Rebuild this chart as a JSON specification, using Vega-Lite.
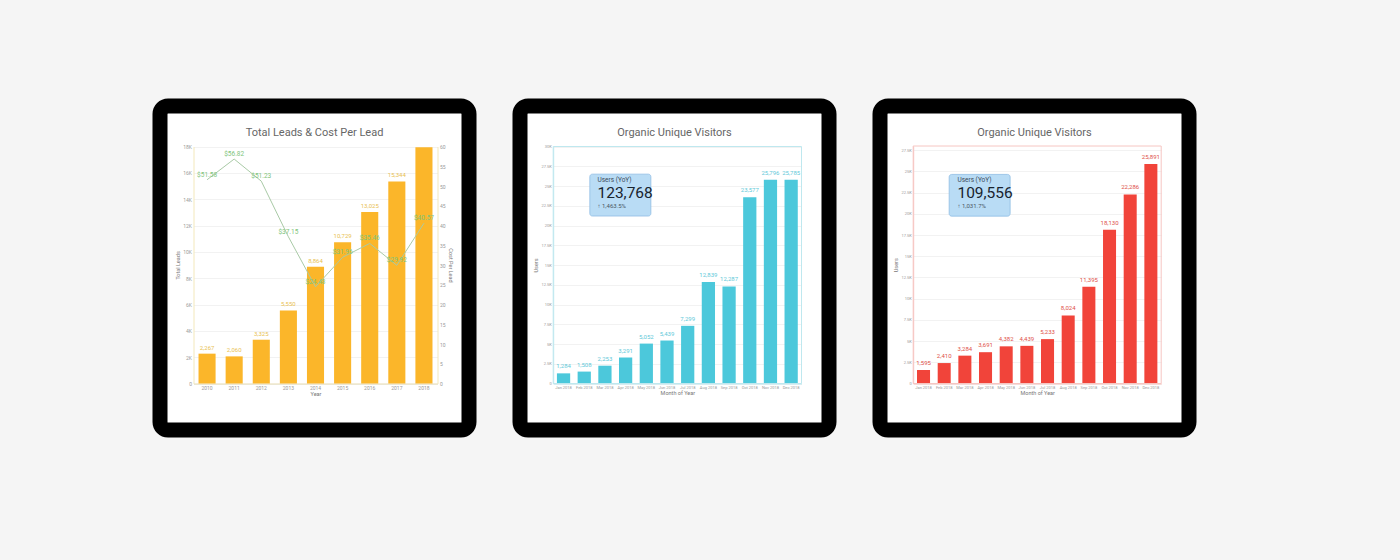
{
  "$schema": "https://vega.github.io/schema/vega-lite/v6.json",
  "background": "#f5f5f5",
  "padding": {"left": 152, "top": 98, "right": 204, "bottom": 123},
  "autosize": {"type": "pad"},
  "spacing": 35,
  "config": {
    "font": "Roboto",
    "axis": {"labelFontSize": 5, "labelColor": "#9a9a9a", "titleFontSize": 5.5, "titleFontWeight": "normal", "titleColor": "#777777", "ticks": false, "labelPadding": 2, "gridColor": "#f2f2f2", "domainColor": "#dddddd", "titlePadding": 2},
    "title": {"fontSize": 11, "fontWeight": "normal", "color": "#666666", "anchor": "middle", "offset": -32}
  },
  "datasets": {
    "leads": [
      {"year": "2010", "leads": 2267, "cpl": 51.58},
      {"year": "2011", "leads": 2060, "cpl": 56.82},
      {"year": "2012", "leads": 3325, "cpl": 51.23},
      {"year": "2013", "leads": 5550, "cpl": 37.15},
      {"year": "2014", "leads": 8864, "cpl": 24.48},
      {"year": "2015", "leads": 10729, "cpl": 31.96},
      {"year": "2016", "leads": 13025, "cpl": 35.46},
      {"year": "2017", "leads": 15344, "cpl": 29.92},
      {"year": "2018", "leads": 17940, "cpl": 40.57}
    ],
    "p2": [
      {"month": "Jan 2018", "users": 1284},
      {"month": "Feb 2018", "users": 1508},
      {"month": "Mar 2018", "users": 2253},
      {"month": "Apr 2018", "users": 3291},
      {"month": "May 2018", "users": 5052},
      {"month": "Jun 2018", "users": 5439},
      {"month": "Jul 2018", "users": 7299},
      {"month": "Aug 2018", "users": 12839},
      {"month": "Sep 2018", "users": 12287},
      {"month": "Oct 2018", "users": 23577},
      {"month": "Nov 2018", "users": 25796},
      {"month": "Dec 2018", "users": 25785}
    ],
    "p3": [
      {"month": "Jan 2018", "users": 1595},
      {"month": "Feb 2018", "users": 2410},
      {"month": "Mar 2018", "users": 3284},
      {"month": "Apr 2018", "users": 3691},
      {"month": "May 2018", "users": 4382},
      {"month": "Jun 2018", "users": 4439},
      {"month": "Jul 2018", "users": 5233},
      {"month": "Aug 2018", "users": 8024},
      {"month": "Sep 2018", "users": 11395},
      {"month": "Oct 2018", "users": 18130},
      {"month": "Nov 2018", "users": 22286},
      {"month": "Dec 2018", "users": 25891}
    ],
    "callout2": [{"label": "Users (YoY)", "total": 123768, "change": "↑ 1,463.5%"}],
    "callout3": [{"label": "Users (YoY)", "total": 109556, "change": "↑ 1,031.7%"}]
  },
  "hconcat": [
    {
      "width": 309, "height": 324,
      "view": {"fill": "white", "stroke": "black", "strokeWidth": 15, "cornerRadius": 8},
      "title": {"text": "Total Leads & Cost Per Lead"},
      "data": {"name": "leads"},
      "resolve": {"scale": {"y": "independent"}},
      "encoding": {
        "x": {"field": "year", "type": "ordinal", "sort": null,
          "scale": {"domain": ["2010","2011","2012","2013","2014","2015","2016","2017","2018"], "range": [33.5, 277.5], "paddingInner": 0.37, "paddingOuter": 0.185},
          "axis": {"title": "Year", "labelAngle": 0, "offset": -46.5, "domainColor": "#e6dbb0", "grid": false, "titlePadding": 1}}
      },
      "layer": [
        {
          "encoding": {
            "y": {"field": "leads", "type": "quantitative",
              "scale": {"domain": [0, 18000], "range": [277.5, 40.5], "nice": false, "zero": true},
              "axis": {"title": "Total Leads", "offset": -33.5, "values": [0,2000,4000,6000,8000,10000,12000,14000,16000,18000], "labelExpr": "datum.value == 0 ? '0' : (datum.value/1000) + 'K'", "grid": true, "domainColor": "#f3e8bb"}}
          },
          "layer": [
            {"mark": {"type": "bar", "color": "#fbb62a"}},
            {"transform": [{"filter": "datum.year != '2018'"}],
             "mark": {"type": "text", "dy": -6, "fontSize": 6, "color": "#e9bf52"},
             "encoding": {"text": {"field": "leads", "format": ","}}}
          ]
        },
        {
          "encoding": {
            "y": {"field": "cpl", "type": "quantitative",
              "scale": {"domain": [0, 60], "range": [277.5, 40.5], "nice": false, "zero": true},
              "axis": {"title": "Cost Per Lead", "orient": "right", "offset": -31.5, "values": [0,5,10,15,20,25,30,35,40,45,50,55,60], "grid": false, "domainColor": "#f3e8bb"}}
          },
          "layer": [
            {"mark": {"type": "line", "color": "#a9caa6", "strokeWidth": 1}},
            {"mark": {"type": "text", "dy": -5, "fontSize": 6.5, "color": "#80c47b"},
             "encoding": {"text": {"field": "cpl", "format": "$,.2f"}}}
          ]
        }
      ]
    },
    {
      "width": 309, "height": 324,
      "view": {"fill": "white", "stroke": "black", "strokeWidth": 15, "cornerRadius": 8},
      "title": {"text": "Organic Unique Visitors"},
      "resolve": {"scale": {"x": "independent"}, "axis": {"y": "independent"}},
      "layer": [
        {
          "data": {"name": "p2"},
          "encoding": {
            "x": {"field": "month", "type": "ordinal", "sort": null,
              "scale": {"domain": ["Jan 2018","Feb 2018","Mar 2018","Apr 2018","May 2018","Jun 2018","Jul 2018","Aug 2018","Sep 2018","Oct 2018","Nov 2018","Dec 2018"], "range": [33.2, 281.5], "paddingInner": 0.36, "paddingOuter": 0.18},
              "axis": {"title": "Month of Year", "labelAngle": 0, "labelFontSize": 4, "offset": -46.5, "domainColor": "#bfe8ef", "grid": false, "titlePadding": 1}},
            "y": {"field": "users", "type": "quantitative",
              "scale": {"domain": [0, 30000], "range": [277.5, 40.5], "nice": false, "zero": true},
              "axis": {"title": "Users", "offset": -33.2, "labelFontSize": 4, "values": [0,2500,5000,7500,10000,12500,15000,17500,20000,22500,25000,27500,30000], "labelExpr": "datum.value == 0 ? '0' : (datum.value/1000) + 'K'", "grid": true, "domainColor": "#bfe8ef"}}
          },
          "layer": [
            {"mark": {"type": "bar", "color": "#4cc8db"}},
            {"mark": {"type": "text", "dy": -7, "fontSize": 6, "color": "#62c9d9"},
             "encoding": {"text": {"field": "users", "format": ","}}}
          ]
        },
        {
          "data": {"name": "callout2"},
          "layer": [
            {"mark": {"type": "rect", "fill": "transparent", "stroke": "#bfe8ef", "strokeWidth": 1},
             "encoding": {
               "x": {"datum": 0, "type": "quantitative", "scale": {"domain": [0, 12], "range": [33.2, 281.5], "nice": false, "zero": false}, "axis": null},
               "x2": {"datum": 12},
               "y": {"datum": 0, "type": "quantitative", "axis": null},
               "y2": {"datum": 30000}}},
            {"mark": {"type": "rect", "fill": "#b9dcf5", "stroke": "#8fbde3", "strokeWidth": 0.8, "cornerRadius": 2.5},
             "encoding": {
               "x": {"datum": 1.77, "type": "quantitative", "axis": null},
               "x2": {"datum": 4.72},
               "y": {"datum": 21200, "type": "quantitative", "axis": null},
               "y2": {"datum": 26500}}},
            {"mark": {"type": "text", "align": "left", "baseline": "middle", "fontSize": 6.5, "color": "#3d4b5a"},
             "encoding": {
               "x": {"datum": 2.14, "type": "quantitative", "axis": null},
               "y": {"datum": 25770, "type": "quantitative", "axis": null},
               "text": {"field": "label"}}},
            {"mark": {"type": "text", "align": "left", "baseline": "middle", "fontSize": 15.5, "color": "#18232e"},
             "encoding": {
               "x": {"datum": 2.14, "type": "quantitative", "axis": null},
               "y": {"datum": 24080, "type": "quantitative", "axis": null},
               "text": {"field": "total", "format": ","}}},
            {"mark": {"type": "text", "align": "left", "baseline": "middle", "fontSize": 6, "color": "#4a5663"},
             "encoding": {
               "x": {"datum": 2.14, "type": "quantitative", "axis": null},
               "y": {"datum": 22520, "type": "quantitative", "axis": null},
               "text": {"field": "change"}}}
          ]
        }
      ]
    },
    {
      "width": 309, "height": 324,
      "view": {"fill": "white", "stroke": "black", "strokeWidth": 15, "cornerRadius": 8},
      "title": {"text": "Organic Unique Visitors"},
      "resolve": {"scale": {"x": "independent"}, "axis": {"y": "independent"}},
      "layer": [
        {
          "data": {"name": "p3"},
          "encoding": {
            "x": {"field": "month", "type": "ordinal", "sort": null,
              "scale": {"domain": ["Jan 2018","Feb 2018","Mar 2018","Apr 2018","May 2018","Jun 2018","Jul 2018","Aug 2018","Sep 2018","Oct 2018","Nov 2018","Dec 2018"], "range": [33.2, 281.2], "paddingInner": 0.37, "paddingOuter": 0.185},
              "axis": {"title": "Month of Year", "labelAngle": 0, "labelFontSize": 4, "offset": -46.5, "domainColor": "#f6c6c2", "grid": false, "titlePadding": 1}},
            "y": {"field": "users", "type": "quantitative",
              "scale": {"domain": [0, 28000], "range": [277.5, 40], "nice": false, "zero": true},
              "axis": {"title": "Users", "offset": -33.2, "labelFontSize": 4, "values": [0,2500,5000,7500,10000,12500,15000,17500,20000,22500,25000,27500], "labelExpr": "datum.value == 0 ? '0' : (datum.value/1000) + 'K'", "grid": true, "domainColor": "#f6c6c2"}}
          },
          "layer": [
            {"mark": {"type": "bar", "color": "#f1443a"}},
            {"mark": {"type": "text", "dy": -7, "fontSize": 6, "color": "#e0504a"},
             "encoding": {"text": {"field": "users", "format": ","}}}
          ]
        },
        {
          "data": {"name": "callout3"},
          "layer": [
            {"mark": {"type": "rect", "fill": "transparent", "stroke": "#f6c6c2", "strokeWidth": 1},
             "encoding": {
               "x": {"datum": 0, "type": "quantitative", "scale": {"domain": [0, 12], "range": [33.2, 281.2], "nice": false, "zero": false}, "axis": null},
               "x2": {"datum": 12},
               "y": {"datum": 0, "type": "quantitative", "axis": null},
               "y2": {"datum": 28000}}},
            {"mark": {"type": "rect", "fill": "#b9dcf5", "stroke": "#8fbde3", "strokeWidth": 0.8, "cornerRadius": 2.5},
             "encoding": {
               "x": {"datum": 1.74, "type": "quantitative", "axis": null},
               "x2": {"datum": 4.69},
               "y": {"datum": 19730, "type": "quantitative", "axis": null},
               "y2": {"datum": 24650}}},
            {"mark": {"type": "text", "align": "left", "baseline": "middle", "fontSize": 6.5, "color": "#3d4b5a"},
             "encoding": {
               "x": {"datum": 2.14, "type": "quantitative", "axis": null},
               "y": {"datum": 23970, "type": "quantitative", "axis": null},
               "text": {"field": "label"}}},
            {"mark": {"type": "text", "align": "left", "baseline": "middle", "fontSize": 15.5, "color": "#18232e"},
             "encoding": {
               "x": {"datum": 2.14, "type": "quantitative", "axis": null},
               "y": {"datum": 22410, "type": "quantitative", "axis": null},
               "text": {"field": "total", "format": ","}}},
            {"mark": {"type": "text", "align": "left", "baseline": "middle", "fontSize": 6, "color": "#4a5663"},
             "encoding": {
               "x": {"datum": 2.14, "type": "quantitative", "axis": null},
               "y": {"datum": 20960, "type": "quantitative", "axis": null},
               "text": {"field": "change"}}}
          ]
        }
      ]
    }
  ]
}
